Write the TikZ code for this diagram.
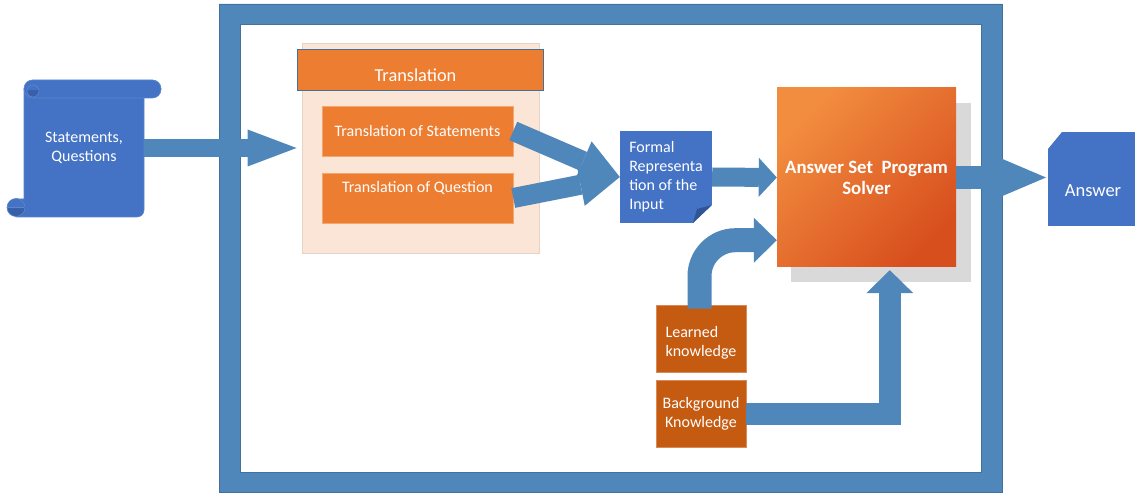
\documentclass[tikz,border=0pt]{standalone}
\usepackage{fontspec}
\setmainfont{Carlito}
\usetikzlibrary{arrows.meta,calc}
\definecolor{frameblue}{HTML}{4F87BB}
\definecolor{frameedge}{HTML}{41719C}
\definecolor{accblue}{HTML}{4472C4}
\definecolor{accedge}{HTML}{5B86CF}
\definecolor{curlblue}{HTML}{3760A8}
\definecolor{foldblue}{HTML}{2F5597}
\definecolor{orng}{HTML}{ED7D31}
\definecolor{orngedge}{HTML}{F4A671}
\definecolor{peach}{HTML}{FBE5D6}
\definecolor{peachedge}{HTML}{E8D2C4}
\definecolor{rust}{HTML}{C55A11}
\definecolor{rustedge}{HTML}{D98A58}
\definecolor{shadowgray}{HTML}{D9D9D9}
\definecolor{asplight}{HTML}{F28D3F}
\definecolor{aspmid}{HTML}{EC7A35}
\definecolor{aspdark}{HTML}{D84F1E}
\begin{document}
\begin{tikzpicture}[x=1pt,y=-1pt,
  box/.style={rectangle, inner sep=0pt, text=white, font=\fontsize{16}{19}\selectfont},
  barrow/.style n args={3}{draw=frameblue, line width=#1, -{Triangle[length=#2,width=#3,line width=0pt]}},
  scrollpart/.style={fill=accblue, draw=accedge, line width=0.6pt}
]
\useasboundingbox (0,0) rectangle (1138,494);
% frame
\fill[frameblue, even odd rule] (219,4) rectangle (1002,492) (240,24) rectangle (981,472);
\draw[frameedge, line width=0.8pt] (219,4) rectangle (1002,492) (240,24) rectangle (981,472);
% scroll
\filldraw[scrollpart] (24,89) -- (144,89) [rounded corners=7pt] -- (144,217) [sharp corners] -- (16,217) -- (16,199) -- (24,199) -- cycle;
\filldraw[scrollpart] (16,207.5) circle[radius=9pt];
\begin{scope}
  \clip (6,207.5) rectangle (26,218);
  \fill[curlblue] (16,207.5) circle[radius=8.4pt];
\end{scope}
\draw[accedge, line width=0.6pt] (7,207.5) -- (24,207.5);
\filldraw[scrollpart, rounded corners=8.5pt] (24,80) rectangle (161,98);
\begin{scope}
  \clip (26,91) rectangle (42,99);
  \fill[curlblue] (33,91) circle[radius=6pt];
\end{scope}
\draw[accedge, line width=0.6pt] (33,91) circle[radius=6pt];
\node[box, minimum width=120pt, minimum height=138pt, align=center] (sq) at (84,148) {Statements,\\Questions};
% translation group
\node[fill=peach, draw=peachedge, line width=0.6pt, minimum width=237pt, minimum height=210pt] (tc) at (420.5,148) {};
\node[box, fill=orng, draw=frameedge, line width=0.9pt, minimum width=246pt, minimum height=41pt, font=\fontsize{18.3}{21}\selectfont] (th) at (420,69.5) {\hspace*{-9pt}\raisebox{-5.5pt}[\height][\depth]{Translation}};
\node[box, fill=orng, draw=orngedge, line width=0.6pt, minimum width=191pt, minimum height=50pt] (tS) at (417.5,131) {Translation of Statements};
\node[box, fill=orng, draw=orngedge, line width=0.6pt, minimum width=191pt, minimum height=50pt] (tQ) at (417.5,198) {\raisebox{10pt}[\height][\depth]{Translation of Question}};
% formal representation
\node[box, fill=accblue, minimum width=92pt, minimum height=92pt, align=left,
  path picture={
    \fill[white] ($(path picture bounding box.south east)+(0,-18)$) -- (path picture bounding box.south east) -- ($(path picture bounding box.south east)+(-19,0)$) -- cycle;
    \fill[foldblue] ($(path picture bounding box.south east)+(0,-18)$) -- ($(path picture bounding box.south east)+(-19,0)$) -- ($(path picture bounding box.south east)+(-15,-14)$) -- cycle;
  }] (fr) at (666,177) {Formal\\Representa\\tion of the\\Input};
% solver
\node[fill=shadowgray, minimum width=180pt, minimum height=179pt, inner sep=0pt] (aspsh) at (881,192.5) {};
\node[box, minimum width=179pt, minimum height=179pt, top color=asplight, middle color=aspmid, bottom color=aspdark, shading angle=45, align=center, font=\fontsize{18.8}{21}\selectfont\bfseries] (asp) at (866.5,177.5) {Answer Set\ \ Program\\Solver};
% answer
\node[box, fill=accblue, draw=white, line width=2pt, minimum width=89pt, minimum height=96pt, font=\fontsize{18.5}{20}\selectfont,
  path picture={
    \fill[white] (path picture bounding box.north west) -- ($(path picture bounding box.north west)+(14,0)$) -- ($(path picture bounding box.north west)+(0,17)$) -- cycle;
    \draw[white, line width=2.5pt] ($(path picture bounding box.north west)+(14,0)$) -- ($(path picture bounding box.north west)+(0,17)$);
  }] (ans) at (1091.5,179) {\hspace*{3pt}\raisebox{-12pt}[\height][\depth]{Answer}};
% knowledge boxes
\node[box, fill=rust, draw=rustedge, line width=0.6pt, minimum width=90pt, minimum height=67pt, align=left] (lk) at (701,338.5) {\raisebox{-4.5pt}[\height][\depth]{\begin{tabular}{@{}l@{}}Learned\\knowledge\end{tabular}}};
\node[box, fill=rust, draw=rustedge, line width=0.6pt, minimum width=90pt, minimum height=67pt, align=center] (bk) at (701,413.5) {Background\\Knowledge};
\coordinate (bktip) at ($(asp.south west)+(113,3)$);
% connectors
\draw[barrow={18pt}{49pt}{37pt}] (sq.east) -- (sq.east -| th.west);
\draw[barrow={20pt}{40pt}{43pt}] (tS.east) -- (fr.west);
\draw[barrow={20pt}{40pt}{43pt}] (tQ.east) -- (fr.west);
\draw[barrow={19pt}{18pt}{39pt}] (fr.east) -- (asp.west);
\draw[barrow={23pt}{47pt}{40pt}] (asp.east) -- (asp.east -| ans.west);
\draw[barrow={24pt}{23pt}{45pt}, rounded corners=36pt] ($(lk.north)+(-1.5,4)$) |- ($(asp.south west)+(0,-27)$);
\draw[barrow={22pt}{23pt}{47pt}] (bk.east) -| (bktip);
\end{tikzpicture}
\end{document}
